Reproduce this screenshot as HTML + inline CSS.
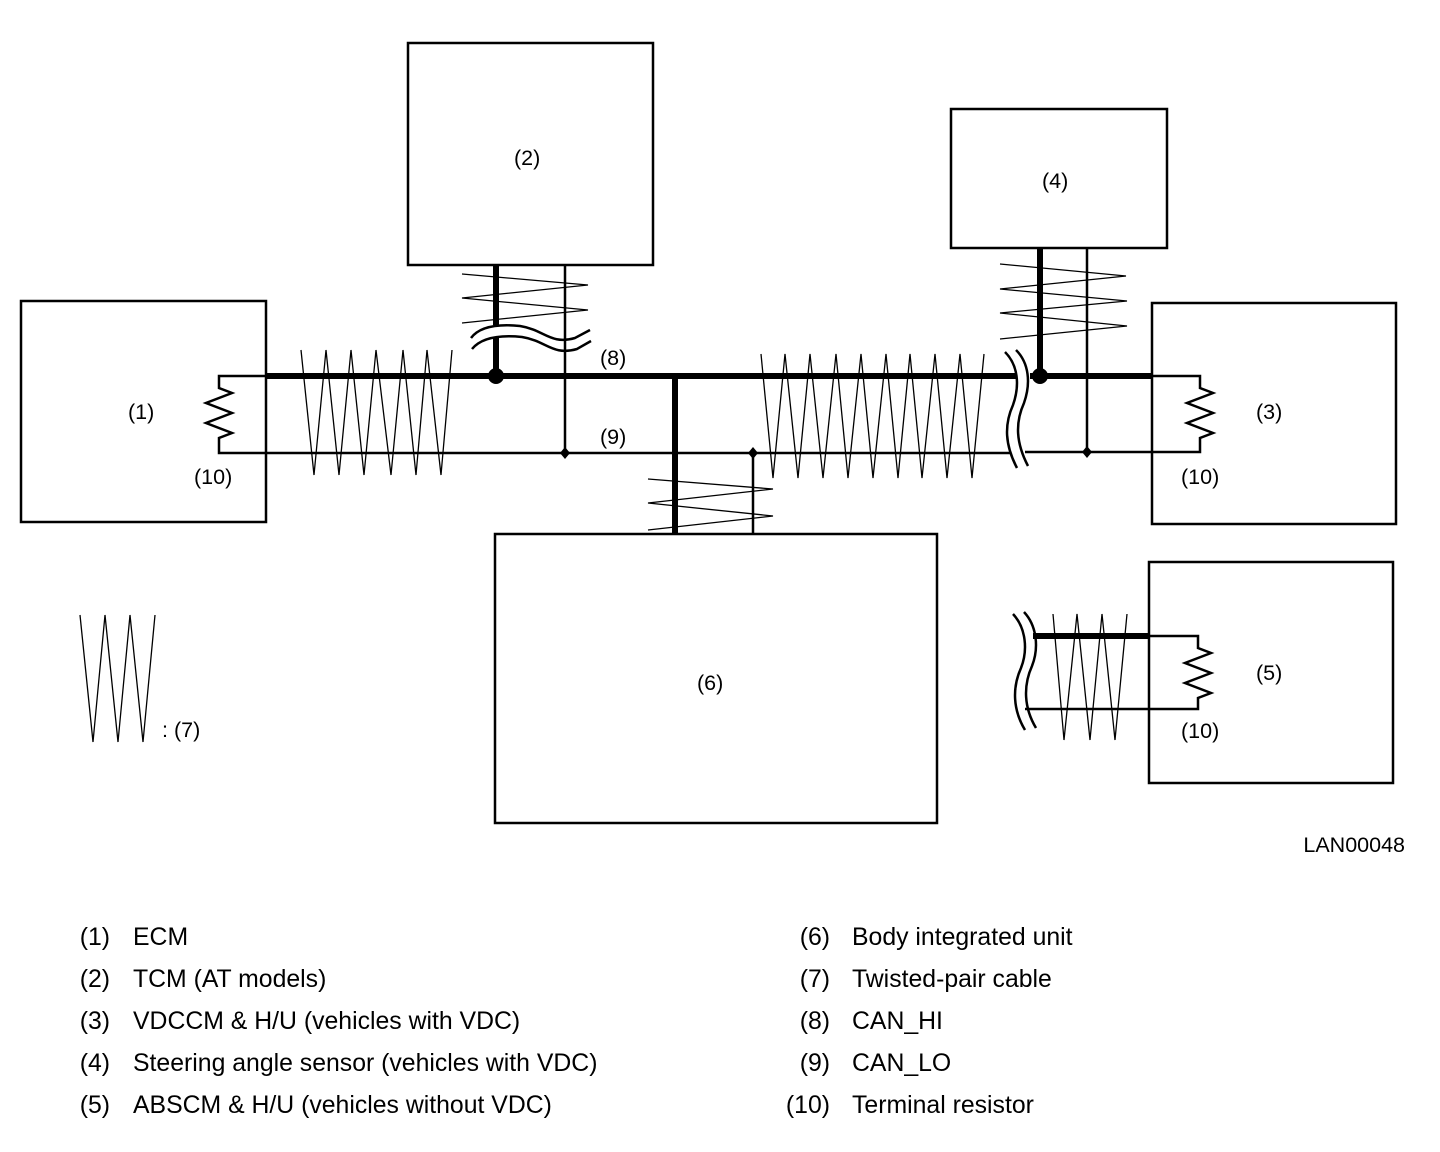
<!DOCTYPE html>
<html><head><meta charset="utf-8"><style>
html,body{margin:0;padding:0;background:#fff;}
svg{display:block;}
text{font-family:"Liberation Sans",Arial,sans-serif;fill:#000;}
.l{font-size:21.5px;}
.g{font-size:24.8px;}
</style></head><body>
<svg width="1440" height="1152" viewBox="0 0 1440 1152" xmlns="http://www.w3.org/2000/svg">
<g fill="none" stroke="#000">
<rect x="21" y="301" width="245" height="221" stroke-width="2.5"/>
<rect x="408" y="43" width="245" height="222" stroke-width="2.5"/>
<rect x="951" y="109" width="216" height="139" stroke-width="2.5"/>
<rect x="1152" y="303" width="244" height="221" stroke-width="2.5"/>
<rect x="495" y="534" width="442" height="289" stroke-width="2.5"/>
<rect x="1149" y="562" width="244" height="221" stroke-width="2.5"/>

<line x1="266" y1="376" x2="1016" y2="376" stroke-width="6"/>
<line x1="1030" y1="376" x2="1152" y2="376" stroke-width="6"/>
<line x1="266" y1="453" x2="1010" y2="453" stroke-width="2.5"/>
<line x1="1025" y1="452" x2="1152" y2="452" stroke-width="2.5"/>

<polyline points="266,376 219,376 219,388 232,393 206,403 232,413 206,423 232,433 219,438 219,453 266,453" stroke-width="2.5"/>
<polyline points="1152,376 1200,376 1200,388 1213,393 1187,403 1213,413 1187,423 1213,433 1200,438 1200,452 1152,452" stroke-width="2.5"/>
<line x1="1033" y1="636" x2="1149" y2="636" stroke-width="6"/>
<line x1="1025" y1="709" x2="1149" y2="709" stroke-width="2.5"/>
<polyline points="1149,636 1198,636 1198,648 1211,653 1185,663 1211,673 1185,683 1211,693 1198,698 1198,709 1149,709" stroke-width="2.5"/>

<polyline points="301,350 314,475 326,350 339,475 351,350 364,475 376,350 391,475 403,350 416,475 427,350 441,475 452,350" stroke-width="1.3"/>
<polyline points="761,354 773,478 785,354 798,478 810,354 823,478 836,354 848,478 861,354 873,478 886,354 898,478 910,354 922,478 935,354 947,478 960,354 972,478 984,354" stroke-width="1.3"/>

<line x1="496" y1="265" x2="496" y2="325" stroke-width="6"/>
<line x1="496" y1="337" x2="496" y2="376" stroke-width="6"/>
<line x1="565" y1="265" x2="565" y2="453" stroke-width="2.5"/>
<polyline points="462,274 588,285 462,298 588,310 462,323" stroke-width="1.3"/>
<path d="M471,338 C480,326 500,324 520,326 C545,330 550,345 575,338 L590,330" stroke-width="2.5"/>
<path d="M472,349 C482,337 502,335 522,337 C547,341 552,356 577,349 L591,341" stroke-width="2.5"/>

<line x1="1040" y1="248" x2="1040" y2="376" stroke-width="6"/>
<line x1="1087" y1="248" x2="1087" y2="452" stroke-width="2.5"/>
<polyline points="1000,264 1126,276 1000,289 1127,301 1000,313 1127,326 1000,339" stroke-width="1.3"/>
<path d="M1005,352 C1018,365 1020,385 1013,405 C1004,425 1005,445 1017,468" stroke-width="2.5"/>
<path d="M1016,350 C1029,363 1031,383 1024,403 C1015,423 1016,443 1028,466" stroke-width="2.5"/>

<line x1="675" y1="376" x2="675" y2="534" stroke-width="6"/>
<line x1="753" y1="453" x2="753" y2="534" stroke-width="2.5"/>
<polyline points="648,479 773,489 648,503 773,516 648,530" stroke-width="1.3"/>

<polyline points="1053,614 1064,740 1077,614 1090,740 1102,614 1115,740 1127,614" stroke-width="1.3"/>
<path d="M1013,614 C1026,628 1028,650 1021,668 C1012,688 1013,710 1025,730" stroke-width="2.5"/>
<path d="M1024,612 C1037,626 1039,648 1032,666 C1023,686 1024,708 1036,728" stroke-width="2.5"/>

<polyline points="80,615 93,742 105,615 118,742 130,615 143,742 155,615" stroke-width="1.3"/>
</g>
<g fill="#000">
<circle cx="496" cy="376" r="8"/>
<circle cx="1040" cy="376" r="8"/>
<polygon points="565,447 570,453 565,459 560,453"/>
<polygon points="753,447 758,453 753,459 748,453"/>
<polygon points="1087,446 1092,452 1087,458 1082,452"/>
</g>
<text class="l" x="128" y="419">(1)</text>
<text class="l" x="514" y="165">(2)</text>
<text class="l" x="1042" y="188">(4)</text>
<text class="l" x="1256" y="419">(3)</text>
<text class="l" x="697" y="690">(6)</text>
<text class="l" x="1256" y="680">(5)</text>
<text class="l" x="194" y="484">(10)</text>
<text class="l" x="1181" y="484">(10)</text>
<text class="l" x="1181" y="738">(10)</text>
<text class="l" x="600" y="365">(8)</text>
<text class="l" x="600" y="444">(9)</text>
<text class="l" x="162" y="737">: (7)</text>
<text class="l" x="1405" y="852" text-anchor="end">LAN00048</text>

<text x="110" y="945" text-anchor="end" class="g">(1)</text><text x="133" y="945" class="g">ECM</text>
<text x="110" y="987" text-anchor="end" class="g">(2)</text><text x="133" y="987" class="g">TCM (AT models)</text>
<text x="110" y="1029" text-anchor="end" class="g">(3)</text><text x="133" y="1029" class="g">VDCCM &amp; H/U (vehicles with VDC)</text>
<text x="110" y="1071" text-anchor="end" class="g">(4)</text><text x="133" y="1071" class="g">Steering angle sensor (vehicles with VDC)</text>
<text x="110" y="1113" text-anchor="end" class="g">(5)</text><text x="133" y="1113" class="g">ABSCM &amp; H/U (vehicles without VDC)</text>
<text x="830" y="945" text-anchor="end" class="g">(6)</text><text x="852" y="945" class="g">Body integrated unit</text>
<text x="830" y="987" text-anchor="end" class="g">(7)</text><text x="852" y="987" class="g">Twisted-pair cable</text>
<text x="830" y="1029" text-anchor="end" class="g">(8)</text><text x="852" y="1029" class="g">CAN_HI</text>
<text x="830" y="1071" text-anchor="end" class="g">(9)</text><text x="852" y="1071" class="g">CAN_LO</text>
<text x="830" y="1113" text-anchor="end" class="g">(10)</text><text x="852" y="1113" class="g">Terminal resistor</text>
</svg>
</body></html>
